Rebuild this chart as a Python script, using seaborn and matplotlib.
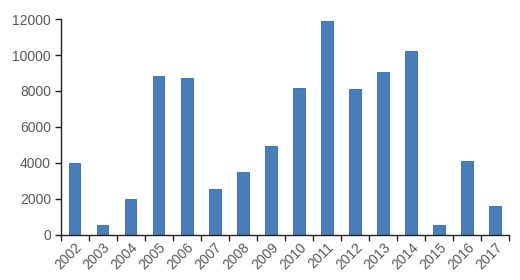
import matplotlib
matplotlib.use("Agg")
import matplotlib.pyplot as plt
import seaborn as sns
import pandas as pd
import numpy as np

years = ["2002", "2003", "2004", "2005", "2006", "2007", "2008", "2009",
         "2010", "2011", "2012", "2013", "2014", "2015", "2016", "2017"]
values = [4000, 540, 1980, 8850, 8740, 2560, 3500, 4960,
          8150, 11900, 8090, 9060, 10240, 540, 4110, 1610]
y_ticks = [0, 2000, 4000, 6000, 8000, 10000, 12000]

sns.set_theme(style="white")
plt.rcParams['font.family'] = ['Liberation Sans', 'DejaVu Sans']

df = pd.DataFrame({"year": years, "value": values})

fig = plt.figure(figsize=(5.2, 2.8), dpi=100)
ax = fig.add_axes([0.117, 0.161, 0.862, 0.771])

sns.barplot(data=df, x="year", y="value", ax=ax, color="#4A7EBB",
            width=0.4, edgecolor="#3568A8", linewidth=0.6, saturation=1)

ax.set_xlim(-0.5, len(years) - 0.5)
ax.set_ylim(0, 12000)
ax.set_yticks(y_ticks)
ax.set_yticklabels([str(t) for t in y_ticks], fontsize=10, color="#595959")
ax.set_xlabel("")
ax.set_ylabel("")

ax.set_xticks(np.arange(len(years)))
ax.set_xticklabels(years, rotation=45, ha="right", rotation_mode="anchor",
                   fontsize=10, color="#595959")
ax.set_xticks(np.arange(-0.5, len(years)), minor=True)
ax.tick_params(axis="x", which="major", length=0, pad=4)
ax.tick_params(axis="x", which="minor", length=4, width=1, color="#222222", direction="out", bottom=True)
ax.tick_params(axis="y", which="major", length=4, width=1, color="#222222", direction="out", left=True, pad=3)

for s in ["top", "right"]:
    ax.spines[s].set_visible(False)
for s in ["left", "bottom"]:
    ax.spines[s].set_color("#222222")
    ax.spines[s].set_linewidth(1.0)

ax.grid(False)
fig.savefig("out.png", dpi=100)
